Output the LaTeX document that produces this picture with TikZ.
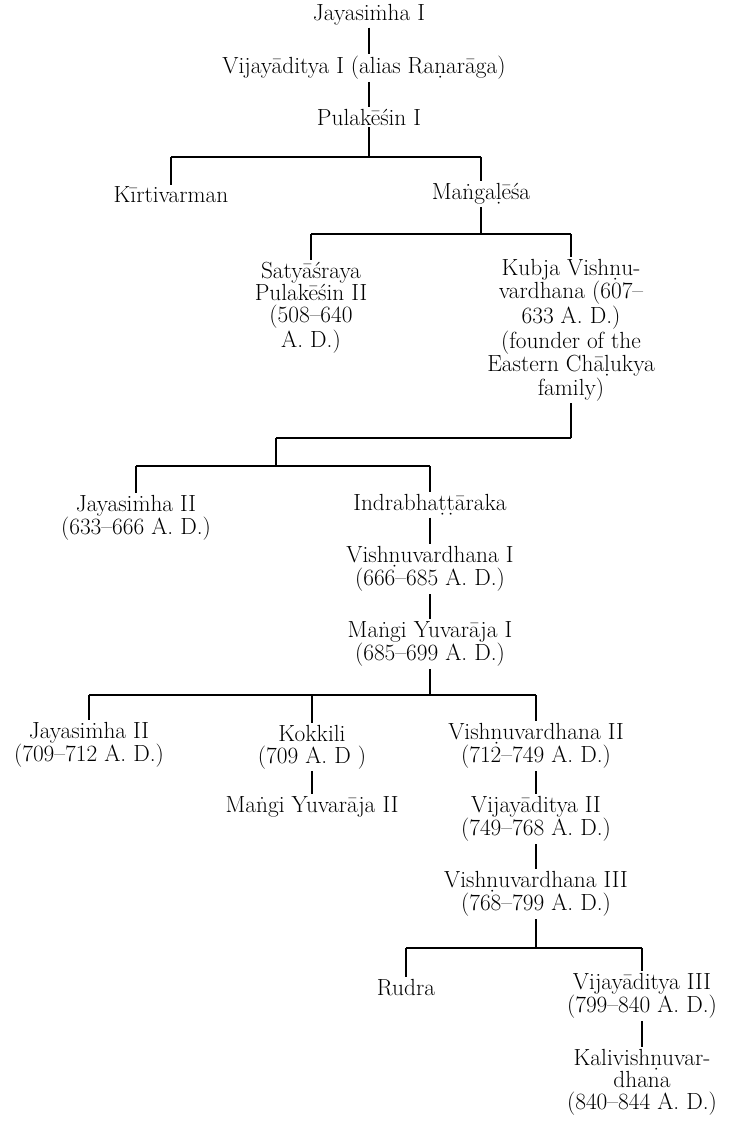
\documentclass[tikz,border=0pt]{standalone}
\usepackage{tikz}

\newcommand{\mdot}{\accent"02D9 m}

\begin{document}
\begin{tikzpicture}[x=0.75pt,y=-0.75pt,
		person/.style={align=center,inner sep=1.5pt,font=\fontsize{17.5}{16.5}\selectfont},
		kin/.style={line width=0.8pt}]
		\useasboundingbox (0,0) rectangle (729,1125);

		% >>> bars of the tree
		\coordinate (bar1) at (0,157);
		\coordinate (bar2) at (0,234);
		\coordinate (bar3) at (0,438);
		\coordinate (bar4) at (0,466);
		\coordinate (bar5) at (0,695);
		\coordinate (bar6) at (0,948);
		\coordinate (link) at (276,438);
		% <<< bars of the tree

		% >>> early Chalukyas
		\node[person] (jay1) at (369,15) {Jayasi\mdot ha I};
		\node[person] (vij1) at (364,68) {Vijayāditya I (alias Raṇarāga)};
		\node[person] (pul1) at (369,117) {Pulakēśin I};
		\node[person] (kirti) at (171,195) {Kīrtivarman};
		\node[person] (mang) at (481,194) {Maṅgaḷēśa};
		\node[person] (saty) at (311,308) {Satyāśraya\\Pulakēśin II\\(508--640\\A. D.)};
		\node[person] (kubja) at (571,330) {Kubja Vishṇu-\\vardhana (607--\\633 A. D.)\\(founder of the\\Eastern Chāḷukya\\family)};

		\draw[kin] (jay1) -- (jay1 |- vij1.north);
		\draw[kin] (vij1.south -| jay1) -- (pul1);
		\draw[kin] (pul1) -- (pul1 |- bar1);
		\draw[kin] (kirti |- bar1) -- (mang |- bar1);
		\draw[kin] (kirti |- bar1) -- (kirti);
		\draw[kin] (mang |- bar1) -- (mang);
		\draw[kin] (mang) -- (mang |- bar2);
		\draw[kin] (saty |- bar2) -- (kubja |- bar2);
		\draw[kin] (saty |- bar2) -- (saty);
		\draw[kin] (kubja |- bar2) -- (kubja);
		% <<< early Chalukyas

		% >>> eastern line
		\node[person] (jay2) at (136,518) {Jayasi\mdot ha II\\(633--666 A. D.)};
		\node[person] (indra) at (430,505) {Indrabhaṭṭāraka};
		\node[person] (vish1) at (430,569) {Vishṇuvardhana I\\(666--685 A. D.)};
		\node[person] (mangi1) at (430,644) {Maṅgi Yuvarāja I\\(685--699 A. D.)};

		\draw[kin] (kubja) -- (kubja |- bar3);
		\draw[kin] (link) -- (kubja |- bar3);
		\draw[kin] (link) -- (link |- bar4);
		\draw[kin] (jay2 |- bar4) -- (indra |- bar4);
		\draw[kin] (jay2 |- bar4) -- (jay2);
		\draw[kin] (indra |- bar4) -- (indra);
		\draw[kin] (indra) -- (vish1);
		\draw[kin] (vish1) -- (mangi1);
		\draw[kin] (mangi1) -- (mangi1 |- bar5);
		% <<< eastern line

		% >>> sons of Mangi Yuvaraja I
		\node[person] (jay2b) at (89,745) {Jayasi\mdot ha II\\(709--712 A. D.)};
		\node[person] (kokk) at (312,747) {Kokkili\\(709 A. D )};
		\node[person] (mangi2) at (312,807) {Maṅgi Yuvarāja II};
		\node[person] (vish2) at (536,746) {Vishṇuvardhana II\\(712--749 A. D.)};
		\node[person] (vij2) at (536,819) {Vijayāditya II\\(749--768 A. D.)};
		\node[person] (vish3) at (536,894) {Vishṇuvardhana III\\(768--799 A. D.)};

		\draw[kin] (jay2b |- bar5) -- (vish2 |- bar5);
		\draw[kin] (jay2b |- bar5) -- (jay2b);
		\draw[kin] (kokk |- bar5) -- (kokk);
		\draw[kin] (vish2 |- bar5) -- (vish2);
		\draw[kin] (kokk) -- (mangi2);
		\draw[kin] (vish2) -- (vij2);
		\draw[kin] (vij2) -- (vish3);
		\draw[kin] (vish3) -- (vish3 |- bar6);
		% <<< sons of Mangi Yuvaraja I

		% >>> last generations
		\node[person] (rudra) at (406,988) {Rudra};
		\node[person] (vij3) at (642,996) {Vijayāditya III\\(799--840 A. D.)};
		\node[person] (kali) at (642,1082) {Kalivishṇuvar-\\dhana\\(840--844 A. D.)};

		\draw[kin] (rudra |- bar6) -- (vij3 |- bar6);
		\draw[kin] (rudra |- bar6) -- (rudra);
		\draw[kin] (vij3 |- bar6) -- (vij3);
		\draw[kin] (vij3) -- (kali);
		% <<< last generations
	\end{tikzpicture}
\end{document}
